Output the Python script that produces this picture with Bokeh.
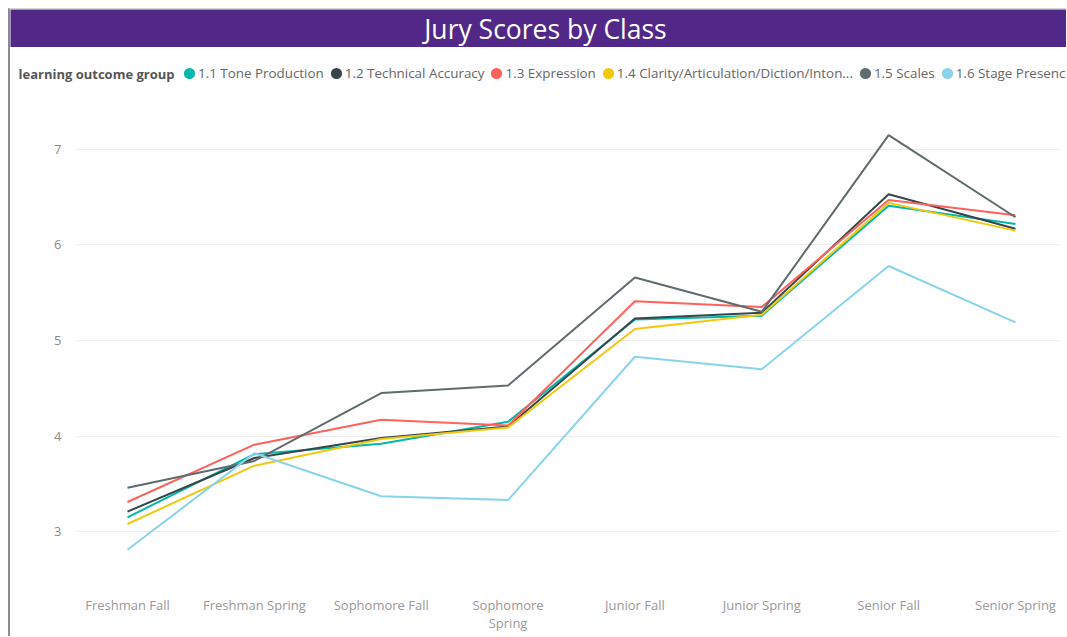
from bokeh.plotting import figure
from bokeh.models import (Range1d, FixedTicker, Legend, LegendItem, Label)
from bokeh.layouts import column
from bokeh.embed import file_html
from bokeh.resources import INLINE

# ---------------- data ----------------
categories = ["Freshman Fall", "Freshman Spring", "Sophomore Fall", "Sophomore Spring",
              "Junior Fall", "Junior Spring", "Senior Fall", "Senior Spring"]
series_names = ["1.1 Tone Production", "1.2 Technical Accuracy", "1.3 Expression",
                "1.4 Clarity/Articulation/Diction/Inton...", "1.5 Scales", "1.6 Stage Presence"]
tone_production = [3.15, 3.81, 3.92, 4.15, 5.22, 5.26, 6.41, 6.22]
technical_accuracy = [3.21, 3.77, 3.98, 4.10, 5.23, 5.29, 6.53, 6.17]
expression = [3.31, 3.91, 4.17, 4.11, 5.41, 5.35, 6.47, 6.31]
clarity = [3.08, 3.69, 3.97, 4.09, 5.12, 5.27, 6.44, 6.15]
scales = [3.46, 3.74, 4.45, 4.53, 5.66, 5.30, 7.15, 6.29]
stage_presence = [2.81, 3.82, 3.37, 3.33, 4.83, 4.70, 5.78, 5.19]
series_values = [tone_production, technical_accuracy, expression, clarity, scales, stage_presence]
y_ticks = [3, 4, 5, 6, 7]
chart_title = "Jury Scores by Class"
legend_title = "learning outcome group"

colors = ["#01B8AA", "#374649", "#FD625E", "#F2C80F", "#5F6B6D", "#8AD4EB"]
FONT = "Open Sans"
PURPLE = "#512888"
W = 1056

xs = list(range(len(categories)))

# ---------------- title band ----------------
tfig = figure(width=W, height=38, x_range=Range1d(0, 1), y_range=Range1d(0, 1),
              x_axis_type=None, y_axis_type=None, toolbar_location=None,
              output_backend="svg", min_border=0)
tfig.frame_align = False
tfig.background_fill_color = PURPLE
tfig.border_fill_color = PURPLE
tfig.outline_line_color = None
tfig.grid.visible = False
tfig.add_layout(Label(x=535, y=19, x_units="screen", y_units="screen", text=chart_title,
                      text_align="center", text_baseline="middle", text_color="white",
                      text_font=FONT, text_font_size="26.5px"))

# ---------------- legend strip ----------------
lfig = figure(width=W, height=52, x_range=Range1d(-1, 0), y_range=Range1d(-1, 0),
              x_axis_type=None, y_axis_type=None, toolbar_location=None,
              output_backend="svg", min_border=0)
lfig.frame_align = False
lfig.outline_line_color = None
lfig.grid.visible = False
lfig.add_layout(Label(x=8, y=26, x_units="screen", y_units="screen", text=legend_title,
                      text_align="left", text_baseline="middle", text_color="#555555",
                      text_font=FONT, text_font_style="bold", text_font_size="13px"))

items = []
for name, vals, col in zip(series_names, series_values, colors):
    dots = lfig.scatter(xs, vals, marker="circle", size=10, color=col, line_width=4,
                        visible=False)
    items.append(LegendItem(label=name, renderers=[dots]))

legend = Legend(items=items, orientation="horizontal", location="center_left",
                label_text_font=FONT, label_text_font_size="13.4px",
                label_text_color="#666666", glyph_width=18, glyph_height=18,
                label_standoff=0, spacing=3, padding=0, margin=170,
                border_line_color=None, background_fill_alpha=0)
lfig.add_layout(legend, "center")

# ---------------- main chart ----------------
p = figure(width=W, height=537, toolbar_location=None, output_backend="svg",
           x_range=Range1d(-0.41, 7.355), y_range=Range1d(2.499, 7.522),
           min_border_left=65, min_border_right=6, min_border_top=0, min_border_bottom=57)
p.frame_align = False
p.background_fill_color = "white"
p.border_fill_color = "white"
p.outline_line_color = None

p.xgrid.visible = False
p.ygrid.grid_line_color = "#ececec"
p.ygrid.grid_line_width = 1

p.xaxis.ticker = FixedTicker(ticks=xs)
p.xaxis.major_label_overrides = {i: c.replace("Sophomore Spring", "Sophomore\nSpring")
                                 for i, c in enumerate(categories)}
p.yaxis.ticker = FixedTicker(ticks=y_ticks)
for ax in (p.xaxis, p.yaxis):
    ax.axis_line_color = None
    ax.major_tick_line_color = None
    ax.minor_tick_line_color = None
    ax.major_label_text_font = FONT
    ax.major_label_text_font_size = "13px"
p.xaxis.major_label_text_color = "#999999"
p.xaxis.major_label_text_line_height = 1.05
p.yaxis.major_label_text_color = "#8a8a8a"
p.xaxis.major_label_standoff = 10
p.yaxis.major_label_standoff = 8

for vals, col in zip(series_values, colors):
    p.line(xs, vals, line_color=col, line_width=2)

layout = column(tfig, lfig, p, styles={"margin-left": "8px", "margin-top": "8px",
                                       "border-left": "2px solid #8c8c8c",
                                       "border-top": "1px solid #d4d4d4"})

open("out.html", "w").write(file_html(layout, INLINE))
